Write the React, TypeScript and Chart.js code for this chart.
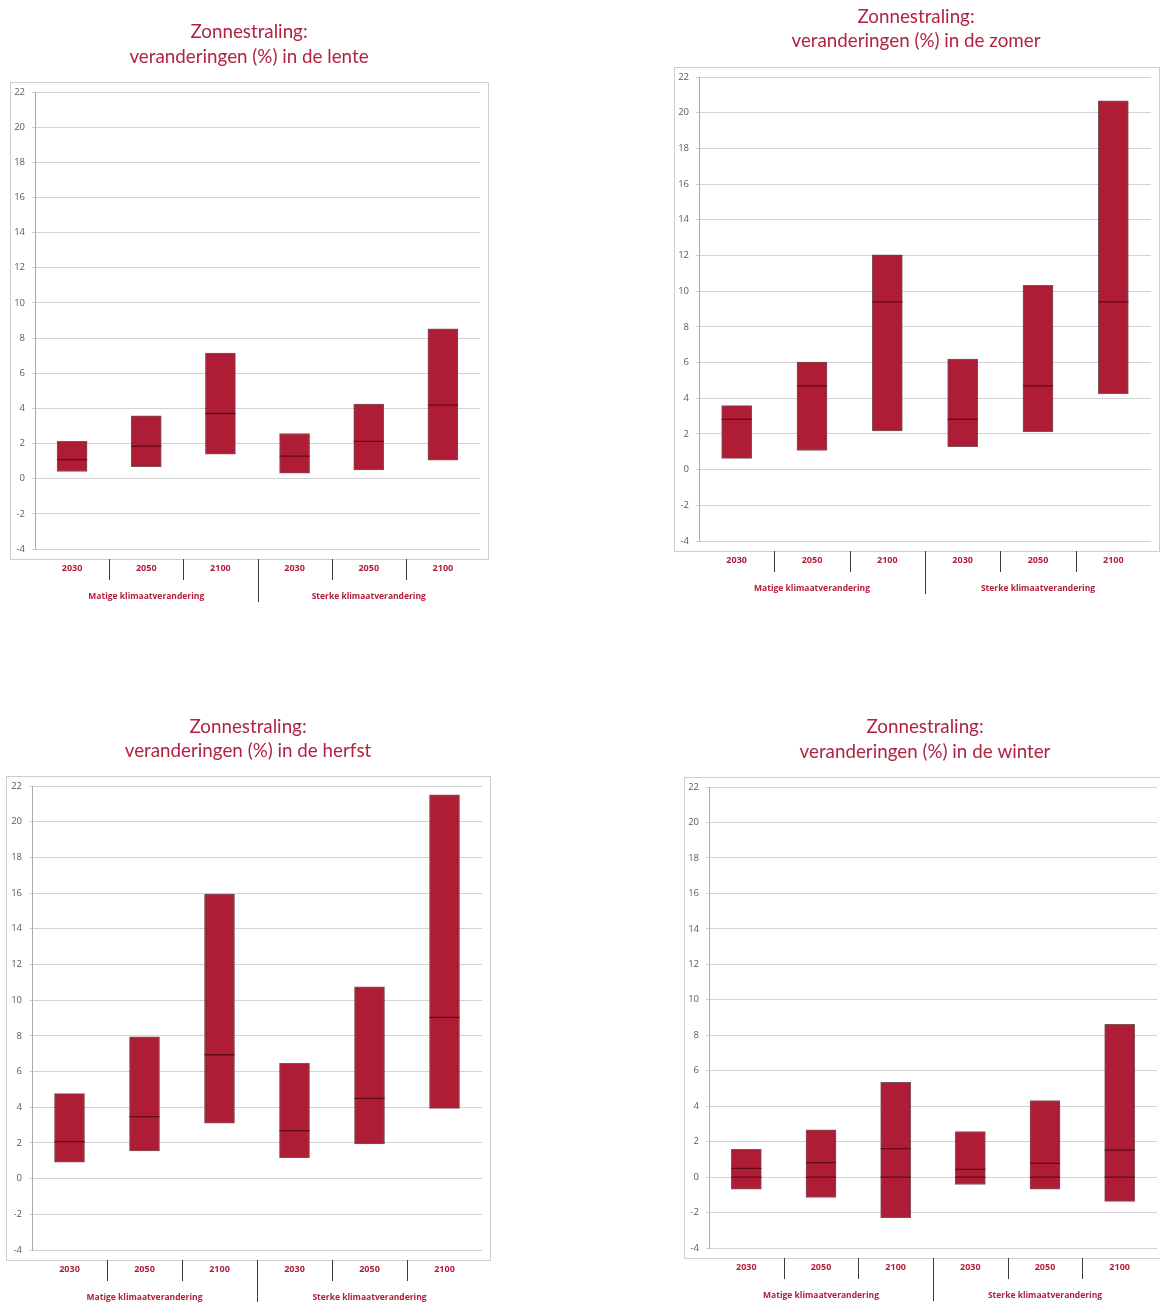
import React, { useEffect, useRef } from 'react';
import { Chart, registerables } from 'chart.js';

Chart.register(...registerables);

// ---- data ----
const years = ['2030', '2050', '2100', '2030', '2050', '2100'];
const groups = ['Matige klimaatverandering', 'Sterke klimaatverandering'];
const yMin = -4;
const yMax = 22;
const yStep = 2;

const lenteMin = [0.41, 0.69, 1.39, 0.31, 0.5, 1.05];
const lenteMax = [2.13, 3.57, 7.14, 2.57, 4.25, 8.52];
const lenteMed = [1.09, 1.85, 3.71, 1.28, 2.12, 4.18];

const zomerMin = [0.63, 1.07, 2.17, 1.29, 2.13, 4.26];
const zomerMax = [3.59, 6.02, 12.04, 6.19, 10.32, 20.66];
const zomerMed = [2.82, 4.69, 9.4, 2.82, 4.69, 9.4];

const herfstMin = [0.92, 1.55, 3.1, 1.18, 1.94, 3.94];
const herfstMax = [4.76, 7.95, 15.94, 6.46, 10.74, 21.51];
const herfstMed = [2.07, 3.47, 6.94, 2.69, 4.5, 9.03];

const winterMin = [-0.68, -1.15, -2.29, -0.42, -0.68, -1.37];
const winterMax = [1.56, 2.66, 5.35, 2.57, 4.32, 8.62];
const winterMed = [0.49, 0.82, 1.61, 0.43, 0.77, 1.52];

const titleLine1 = 'Zonnestraling:';
const lenteTitle = 'veranderingen (%) in de lente';
const zomerTitle = 'veranderingen (%) in de zomer';
const herfstTitle = 'veranderingen (%) in de herfst';
const winterTitle = 'veranderingen (%) in de winter';

// ---- styles ----
const BAR = '#AF1C36';
const BAR_EDGE = 'rgba(70,8,18,0.7)';
const MED = '#5E0A18';
const TITLE_COLOR = '#B02442';
const LABEL_COLOR = '#B01E3A';

type Panel = {
  title: string[];
  mins: number[];
  maxs: number[];
  meds: number[];
  cx: number; cy: number; W: number; H: number;
  boxL: number; chartL: number; chartT: number; chartR: number; chartB: number;
  titleX: number; titleY: number[];
};

const panels: Panel[] = [
  {
    title: [titleLine1, lenteTitle], mins: lenteMin, maxs: lenteMax, meds: lenteMed,
    cx: 0, cy: 0, W: 500, H: 610,
    boxL: 10, chartL: 35, chartT: 92, chartR: 480, chartB: 549,
    titleX: 249, titleY: [32, 57],
  },
  {
    title: [titleLine1, zomerTitle], mins: zomerMin, maxs: zomerMax, meds: zomerMed,
    cx: 664, cy: 0, W: 496, H: 610,
    boxL: 674, chartL: 699, chartT: 77, chartR: 1151, chartB: 541,
    titleX: 916, titleY: [17, 41],
  },
  {
    title: [titleLine1, herfstTitle], mins: herfstMin, maxs: herfstMax, meds: herfstMed,
    cx: 0, cy: 700, W: 500, H: 602,
    boxL: 6, chartL: 32, chartT: 786, chartR: 482, chartB: 1250,
    titleX: 248, titleY: [727, 751],
  },
  {
    title: [titleLine1, winterTitle], mins: winterMin, maxs: winterMax, meds: winterMed,
    cx: 670, cy: 700, W: 490, H: 602,
    boxL: 684, chartL: 709, chartT: 787, chartR: 1157, chartB: 1248,
    titleX: 925, titleY: [727, 752],
  },
];

function PanelChart({ p }: { p: Panel }) {
  const ref = useRef<HTMLCanvasElement>(null);
  useEffect(() => {
    const canvas = ref.current;
    if (!canvas) return;
    const xH = 40;
    const padL = p.boxL - p.cx;
    const yW = p.chartL - p.boxL;
    const padT = p.chartT - p.cy;
    const padR = p.cx + p.W - p.chartR;
    const padB = p.cy + p.H - p.chartB - xH;
    const zeroMarks = p.mins.map((mn, i) => (mn < 0 && p.maxs[i] > 0 ? 0 : null));

    const decor = {
      id: 'decor',
      beforeDraw(chart: any) {
        const { ctx, chartArea: a } = chart;
        ctx.save();
        ctx.strokeStyle = '#cdcdcd';
        ctx.lineWidth = 1;
        const l = Math.round(a.left - yW) + 0.5;
        const t = Math.round(a.top - 10) + 0.5;
        const r = Math.round(a.right + 8) + 0.5;
        const b = Math.round(a.bottom + 10) + 0.5;
        ctx.strokeRect(l, t, r - l, b - t);
        ctx.restore();
      },
      afterDraw(chart: any) {
        const { ctx, chartArea: a, scales } = chart;
        const x = scales.x;
        ctx.save();
        ctx.fillStyle = TITLE_COLOR;
        ctx.font = '18.8px Lato';
        ctx.textAlign = 'center';
        ctx.textBaseline = 'middle';
        p.title.forEach((t, i) => ctx.fillText(t, p.titleX - p.cx, p.titleY[i] - p.cy));

        ctx.strokeStyle = '#3c3c3c';
        ctx.lineWidth = 1;
        for (let i = 1; i < years.length; i++) {
          const bx = Math.round((x.getPixelForValue(i - 1) + x.getPixelForValue(i)) / 2) + 0.5;
          const major = i % 3 === 0;
          ctx.beginPath();
          ctx.moveTo(bx, a.bottom + 10);
          ctx.lineTo(bx, a.bottom + (major ? 53 : 31));
          ctx.stroke();
        }

        ctx.fillStyle = LABEL_COLOR;
        ctx.font = 'bold 8.5px "Open Sans"';
        groups.forEach((g, gi) => {
          const c = (x.getPixelForValue(gi * 3) + x.getPixelForValue(gi * 3 + 2)) / 2;
          ctx.fillText(g, c, a.bottom + 47.5);
        });
        ctx.restore();
      },
    };

    const chart = new Chart(canvas, {
      type: 'bar',
      data: {
        labels: years,
        datasets: [
          {
            type: 'bar',
            data: p.mins.map((m, i) => [m, p.maxs[i]]),
            backgroundColor: BAR,
            borderColor: BAR_EDGE,
            borderWidth: 1,
            borderSkipped: false,
            barThickness: 30,
            order: 3,
          } as any,
          {
            type: 'line',
            data: p.meds,
            showLine: false,
            pointStyle: 'line',
            pointRadius: 15,
            pointBorderWidth: 1.3,
            borderColor: MED,
            pointBorderColor: MED,
            order: 1,
          } as any,
          {
            type: 'line',
            data: zeroMarks,
            showLine: false,
            pointStyle: 'line',
            pointRadius: 15,
            pointBorderWidth: 1.3,
            borderColor: MED,
            pointBorderColor: MED,
            order: 2,
          } as any,
        ],
      },
      options: {
        responsive: false,
        animation: false,
        events: [],
        layout: {
          autoPadding: false,
          padding: { left: padL, right: padR, top: padT, bottom: padB },
        },
        plugins: {
          legend: { display: false },
          tooltip: { enabled: false },
          title: { display: false },
        },
        scales: {
          x: {
            grid: { display: false, drawTicks: false },
            border: { display: false },
            ticks: {
              color: LABEL_COLOR,
              font: { family: '"Open Sans"', size: 9, weight: 'bold' },
              padding: 14,
              maxRotation: 0,
              autoSkip: false,
            },
            afterFit: (s: any) => {
              s.height = xH;
              s.paddingLeft = 0;
              s.paddingRight = 0;
            },
          },
          y: {
            min: yMin,
            max: yMax,
            ticks: {
              stepSize: yStep,
              color: '#595959',
              font: { family: '"Open Sans"', size: 9.5 },
              padding: 7,
            },
            grid: { color: '#d2d2d2', tickLength: 3, drawTicks: true },
            border: { color: '#ababab' },
            afterFit: (s: any) => { s.width = yW; },
          },
        },
      } as any,
      plugins: [decor],
    });
    return () => chart.destroy();
  }, [p]);

  return (
    <canvas
      ref={ref}
      width={p.W}
      height={p.H}
      style={{ position: 'absolute', left: p.cx, top: p.cy, width: p.W, height: p.H }}
    />
  );
}

export default function App() {
  return (
    <div
      style={{
        position: 'absolute',
        left: 0,
        top: 0,
        width: 1160,
        height: 1302,
        background: '#ffffff',
        overflow: 'hidden',
      }}
    >
      {panels.map((p, i) => (
        <PanelChart key={i} p={p} />
      ))}
    </div>
  );
}
